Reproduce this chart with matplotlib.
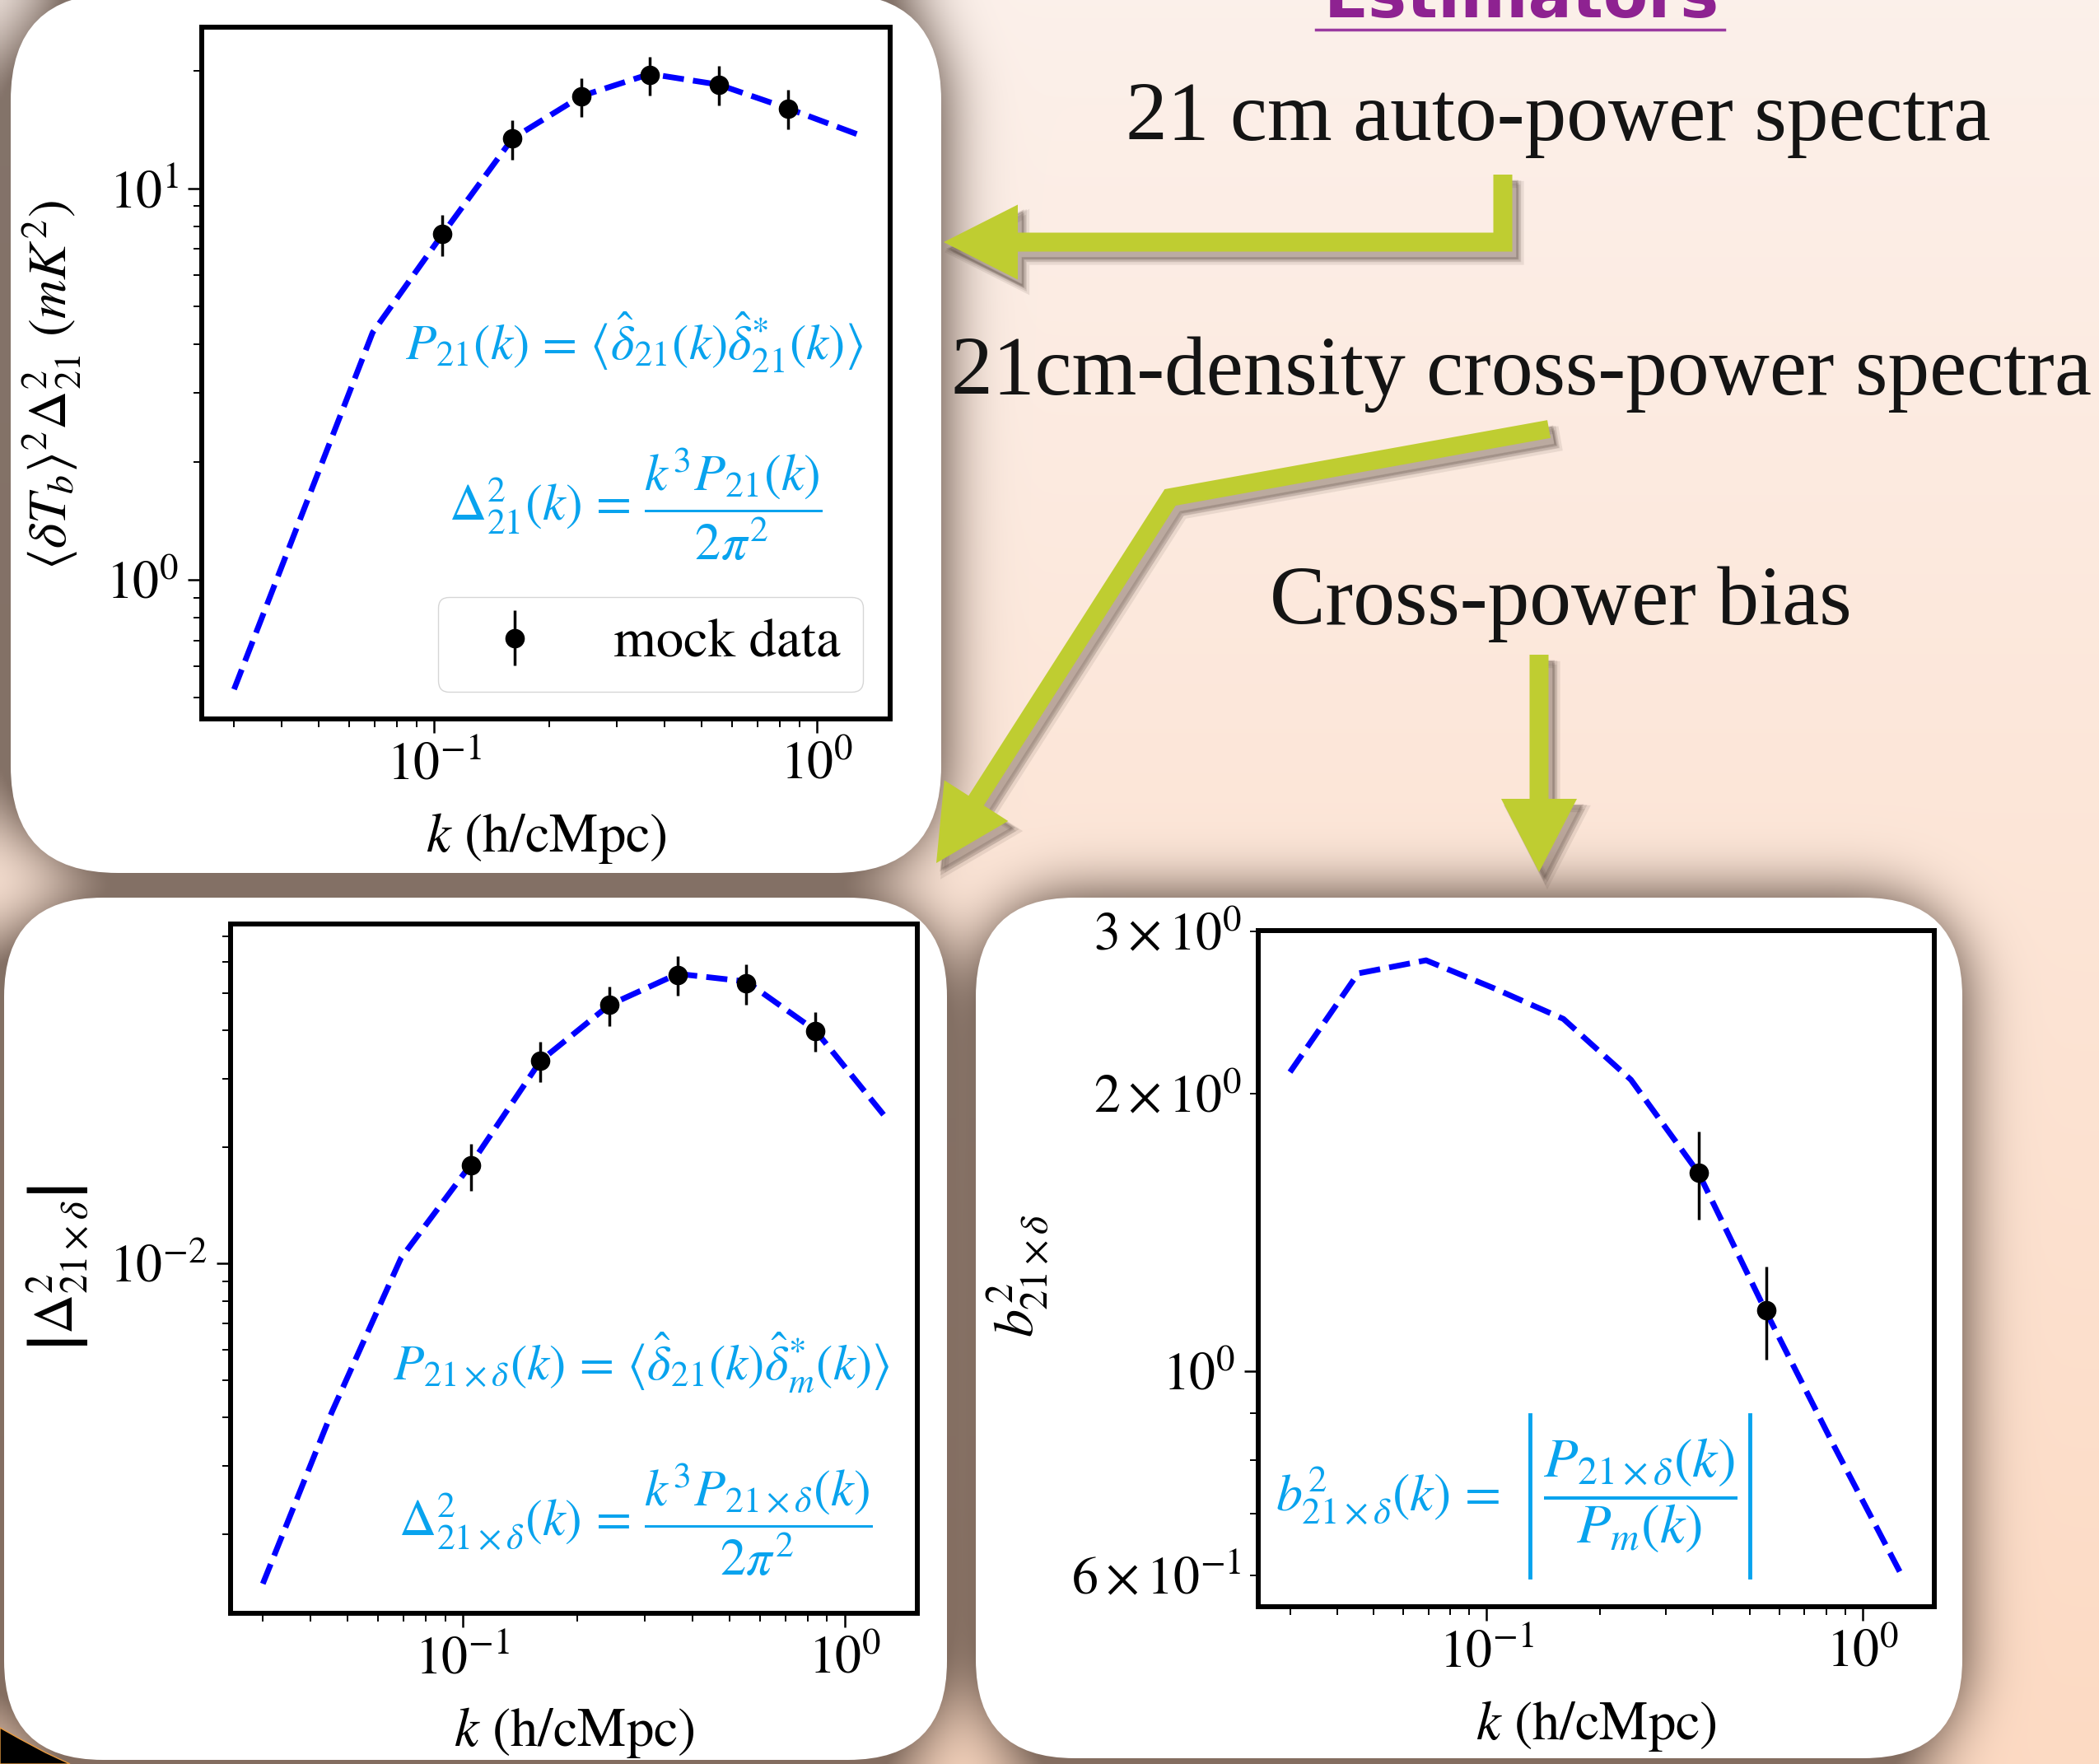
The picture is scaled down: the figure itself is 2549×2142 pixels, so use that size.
import numpy as np
import matplotlib
matplotlib.use("Agg")
import matplotlib.pyplot as plt
from matplotlib.patches import FancyBboxPatch, Polygon

# wavenumber bins (h/cMpc)
k_model = [0.030, 0.0455, 0.069, 0.105, 0.160, 0.242, 0.366, 0.553, 0.838, 1.27]
k_data = [0.105, 0.160, 0.242, 0.366, 0.553, 0.838]

# 21 cm auto-power
auto_model = [0.525, 1.50, 4.28, 7.63, 13.4, 17.2, 19.6, 18.4, 16.0, 13.75]
auto_data = [7.63, 13.4, 17.2, 19.5, 18.4, 16.0]
auto_err = [0.92, 1.55, 1.95, 2.2, 2.1, 1.85]

# 21cm-density cross-power
cross_model = [0.00149, 0.00414, 0.01033, 0.0180, 0.0334, 0.0465, 0.0560, 0.0535, 0.0400, 0.0241]
cross_data = [0.0179, 0.0334, 0.0465, 0.0557, 0.0529, 0.0399]
cross_err = [0.0025, 0.0040, 0.0055, 0.0065, 0.0062, 0.0047]

# cross-power bias
bias_model = [2.11, 2.70, 2.79, 2.60, 2.41, 2.07, 1.64, 1.16, 0.83, 0.60]
k_bias = [0.366, 0.553]
bias_data = [1.64, 1.163]
bias_err = [0.18, 0.135]

W, H = 2549, 2142
EQ_COLOR = '#08a3ee'
ARROW_COLOR = '#bfcd31'

plt.rcParams['mathtext.fontset'] = 'stix'
plt.rcParams['font.family'] = ['STIXGeneral', 'DejaVu Sans']


def rrect_mask(xx, yy, x0, y0, x1, y1, r):
    dx = np.maximum(np.maximum(x0 + r - xx, xx - (x1 - r)), 0)
    dy = np.maximum(np.maximum(y0 + r - yy, yy - (y1 - r)), 0)
    return (np.hypot(dx, dy) <= r).astype(float)


def gauss_matrix(n, sigma):
    i = np.arange(n)
    g = np.exp(-0.5 * ((i[:, None] - i[None, :]) / sigma) ** 2)
    return g / g.sum(axis=1, keepdims=True)


def arrow_poly(pts, w, hl, hw):
    pts = np.array(pts, float)
    d = pts[-1] - pts[-2]
    u = d / np.linalg.norm(d)
    tip = pts[-1]
    base = tip - u * hl
    path = np.vstack([pts[:-1], base])
    left, right = [], []
    for i in range(len(path)):
        if i == 0 or i == len(path) - 1:
            s = path[1] - path[0] if i == 0 else path[i] - path[i - 1]
            s = s / np.linalg.norm(s)
            m = np.array([-s[1], s[0]])
            off = w / 2
        else:
            s1 = path[i] - path[i - 1]
            s1 = s1 / np.linalg.norm(s1)
            s2 = path[i + 1] - path[i]
            s2 = s2 / np.linalg.norm(s2)
            n1 = np.array([-s1[1], s1[0]])
            n2 = np.array([-s2[1], s2[0]])
            m = (n1 + n2) / np.linalg.norm(n1 + n2)
            off = (w / 2) / np.dot(m, n1)
        left.append(path[i] + m * off)
        right.append(path[i] - m * off)
    n = np.array([-u[1], u[0]])
    head = [base + n * hw / 2, tip, base - n * hw / 2]
    return np.array(left + head + right[::-1])


def power_panel(fig, rect, model, kd, yd, ye, ylim):
    ax = fig.add_axes(rect)
    ax.set_zorder(5)
    ax.plot(k_model, model, ls='--', color='blue', lw=5)
    ax.errorbar(kd, yd, yerr=ye, fmt='o', color='black', ms=16,
                elinewidth=2.5, label='mock data')
    ax.set_xscale('log')
    ax.set_yscale('log')
    ax.set_xlim(0.0247, 1.55)
    ax.set_ylim(*ylim)
    ax.set_xlabel(r'$k$ (h/cMpc)', fontsize=48, labelpad=18)
    for s in ax.spines.values():
        s.set_linewidth(4.3)
    ax.tick_params(which='major', length=12, width=1.8, labelsize=46, pad=8)
    ax.tick_params(which='minor', length=7, width=1.4, labelsize=46, pad=8)
    return ax


def main():
    fig = plt.figure(figsize=(W / 100, H / 100), dpi=100)

    # slide background with soft shadows around the panels
    f = 4
    yy, xx = np.mgrid[0:H // f + 1, 0:W // f + 1].astype(float) * f
    panels = [(13, -8, 1143, 1060, 130), (5, 1090, 1150, 2137, 120),
              (1185, 1090, 2383, 2135, 120)]
    mask = np.zeros_like(xx)
    for p in panels:
        mask = np.maximum(mask, rrect_mask(xx, yy, *p))
    blur = gauss_matrix(mask.shape[0], 9) @ mask @ gauss_matrix(mask.shape[1], 9).T
    alpha = np.clip(blur * 1.6, 0, 1) * 0.75
    t = (yy / H)[..., None]
    top = np.array([0.988, 0.942, 0.918])
    bot = np.array([0.992, 0.855, 0.765])
    bg = top * (1 - t) + bot * t
    shadow = np.array([0.36, 0.29, 0.25])
    img = bg * (1 - alpha[..., None]) + shadow * alpha[..., None]

    bga = fig.add_axes([0, 0, 1, 1])
    bga.imshow(img, extent=(0, W, H, 0), interpolation='bilinear', aspect='auto')
    bga.set_xlim(0, W)
    bga.set_ylim(H, 0)
    bga.axis('off')

    for x0, y0, x1, y1, r in panels:
        bga.add_patch(FancyBboxPatch((x0, y0), x1 - x0, y1 - y0,
                                     boxstyle='round,pad=0,rounding_size=%d' % r,
                                     fc='white', ec='none'))
    bga.add_patch(Polygon([(0, 2098), (25, 2112), (55, 2128), (85, 2142), (0, 2142)],
                          closed=True, fc='black', ec='#e89a40', lw=1))

    # green arrows
    arrows = [
        arrow_poly([(1825, 212), (1825, 294), (1146, 294)], 23, 90, 91),
        arrow_poly([(1881, 521), (1421, 604), (1137, 1048)], 22, 90, 92),
        arrow_poly([(1869, 795), (1869, 1059)], 23, 89, 92),
    ]
    for poly in arrows:
        for j, (dx, dy, a) in enumerate([(10, 12, 0.10), (8, 10, 0.13), (6, 8, 0.18)]):
            bga.add_patch(Polygon(poly + [dx, dy], closed=True, fc='#4a3a32',
                                  ec='#4a3a32', lw=6 - 2 * j, alpha=a))
        bga.add_patch(Polygon(poly, closed=True, fc=ARROW_COLOR, ec='none'))

    # slide texts
    serif = 'Liberation Serif'
    bga.text(1848, 21, 'Estimators', ha='center', va='baseline', fontsize=57,
             color='#8e2291', family='DejaVu Sans', weight='bold')
    bga.plot([1598, 2094], [36, 36], color='#9a3aa0', lw=2.5)
    bga.text(1892, 170, '21 cm auto-power spectra', ha='center', va='baseline',
             fontsize=73, family=serif, color='#141414')
    bga.text(1848, 479, '21cm-density cross-power spectra', ha='center',
             va='baseline', fontsize=73, family=serif, color='#141414')
    bga.text(1895, 758, 'Cross-power bias', ha='center', va='baseline',
             fontsize=73, family=serif, color='#141414')

    # panel 1: auto-power
    ax1 = power_panel(fig, [245 / W, 1 - 873 / H, 836 / W, 840 / H],
                      auto_model, k_data, auto_data, auto_err, (0.441, 25.8))
    ax1.set_ylabel(r'$\langle \delta T_b \rangle^2 \Delta^2_{21}\ (mK^2)$', fontsize=47)
    ax1.yaxis.set_label_coords(-0.172, 0.483)
    ax1.legend(loc='lower right', fontsize=48, framealpha=0.8)
    ax1.text(0.628, 0.545, r'$P_{21}(k)\,=\,\langle\hat{\delta}_{21}(k)\hat{\delta}^{*}_{21}(k)\rangle$',
             transform=ax1.transAxes, ha='center', va='center', fontsize=44, color=EQ_COLOR)
    ax1.text(0.630, 0.31, r'$\Delta^2_{21}(k)\,=\,\dfrac{k^3P_{21}(k)}{2\pi^2}$',
             transform=ax1.transAxes, ha='center', va='center', fontsize=45, color=EQ_COLOR)

    # panel 2: cross-power
    ax2 = power_panel(fig, [280 / W, 1 - 1959 / H, 834 / W, 837 / H],
                      cross_model, k_data, cross_data, cross_err, (1.25e-3, 0.0753))
    ax2.set_ylabel(r'$\left|\Delta^2_{21\times\delta}\right|$', fontsize=48)
    ax2.yaxis.set_label_coords(-0.203, 0.5)
    ax2.text(0.598, 0.363, r'$P_{21\times\delta}(k)\,=\,\langle\hat{\delta}_{21}(k)\hat{\delta}^{*}_{m}(k)\rangle$',
             transform=ax2.transAxes, ha='center', va='center', fontsize=44, color=EQ_COLOR)
    ax2.text(0.59, 0.136, r'$\Delta^2_{21\times\delta}(k)\,=\,\dfrac{k^3P_{21\times\delta}(k)}{2\pi^2}$',
             transform=ax2.transAxes, ha='center', va='center', fontsize=45, color=EQ_COLOR)

    # panel 3: bias
    ax3 = power_panel(fig, [1528 / W, 1 - 1951 / H, 821 / W, 821 / H],
                      bias_model, k_bias, bias_data, bias_err, (0.555, 3.005))
    ax3.set_ylabel(r'$b^2_{21\times\delta}$', fontsize=49)
    ax3.yaxis.set_label_coords(-0.307, 0.49)
    ax3.text(0.357, 0.164, r'$b^2_{21\times\delta}(k)\,=$',
             transform=ax3.transAxes, ha='right', va='center', fontsize=46, color=EQ_COLOR)
    ax3.text(0.565, 0.164, r'$\dfrac{P_{21\times\delta}(k)}{P_m(k)}$',
             transform=ax3.transAxes, ha='center', va='center', fontsize=49, color=EQ_COLOR)
    for xb in (0.402, 0.727):
        ax3.plot([xb, xb], [0.044, 0.284], transform=ax3.transAxes, color=EQ_COLOR,
                 lw=3.5, clip_on=False)

    fig.savefig('out.png', dpi=100)


if __name__ == "__main__":
    main()
